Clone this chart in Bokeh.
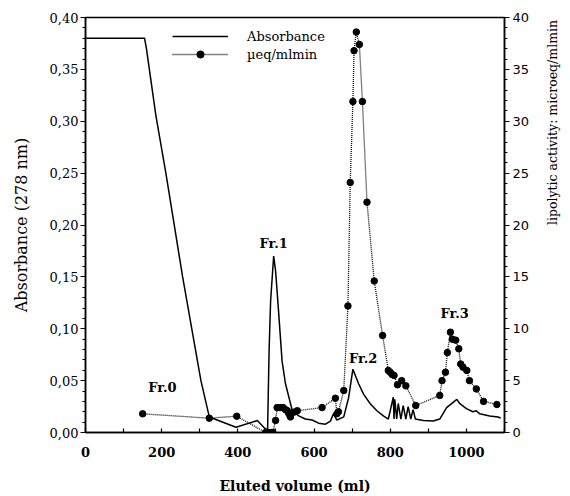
import math
from bokeh.plotting import figure
from bokeh.models import (Range1d, LinearAxis, FixedTicker, CustomJSTickFormatter,
                          Legend, LegendItem, ColumnDataSource)
from bokeh.embed import file_html
from bokeh.resources import INLINE
from bokeh.core.properties import value

# ---- data ----
abs_x = [0, 155, 160, 185, 211, 255, 303, 325, 395, 451, 468, 478, 482, 486, 494, 499,
         508, 516, 525, 534, 543, 560, 577, 595, 612, 630, 643, 651, 660, 678, 691, 702,
         717, 730, 747, 765, 782, 795, 800, 808, 810, 812, 817, 821, 828, 834, 841, 847,
         854, 860, 866, 887, 913, 930, 948, 965, 975, 982, 1000, 1017, 1026, 1035, 1061,
         1083, 1090]
abs_y = [0.380, 0.380, 0.370, 0.305, 0.250, 0.150, 0.050, 0.015, 0.005, 0.0115, 0.005,
         0.002, 0.079, 0.127, 0.170, 0.156, 0.111, 0.069, 0.047, 0.034, 0.021, 0.016,
         0.013, 0.012, 0.009, 0.008, 0.011, 0.018, 0.012, 0.015, 0.034, 0.061, 0.047,
         0.037, 0.028, 0.021, 0.016, 0.013, 0.021, 0.034, 0.013, 0.032, 0.013, 0.028,
         0.013, 0.026, 0.013, 0.025, 0.013, 0.022, 0.013, 0.0115, 0.011, 0.013, 0.024,
         0.029, 0.032, 0.028, 0.023, 0.020, 0.021, 0.018, 0.016, 0.015, 0.014]

act_x = [150, 325, 397, 473, 480, 487, 492, 499, 503, 511, 519, 525, 530, 534, 538, 547,
         556, 621, 656, 660, 664, 678, 689, 695, 702, 705, 711, 719, 727, 739, 758, 780,
         795, 800, 805, 810, 819, 830, 841, 867, 930, 936, 945, 950, 958, 963, 972, 980,
         985, 991, 1001, 1008, 1026, 1045, 1080]
act_y = [1.8, 1.38, 1.57, 0, 0, 0, 0, 1.16, 2.4, 2.4, 2.4, 2.2, 2.1, 1.8, 1.5, 1.96,
         2.1, 2.4, 3.3, 1.8, 2.0, 4.05, 12.2, 24.1, 31.9, 36.8, 38.6, 37.4, 31.9, 22.2,
         14.6, 9.35, 5.98, 5.8, 5.6, 5.5, 4.6, 5.0, 4.5, 2.6, 3.57, 5.0, 5.8, 7.7, 9.67,
         9.0, 8.9, 8.07, 6.6, 6.3, 5.98, 5.0, 4.2, 3.0, 2.7]

frac_labels = ["Fr.0", "Fr.1", "Fr.2", "Fr.3"]
frac_x = [202, 494, 729, 969]
frac_y = [0.0437, 0.182, 0.0713, 0.1147]

x_ticks = [0, 200, 400, 600, 800, 1000]
x_minor = [100, 300, 500, 700, 900, 1100]
y_ticks = [0.00, 0.05, 0.10, 0.15, 0.20, 0.25, 0.30, 0.35, 0.40]
y_minor = [i / 100 for i in range(41)]
act_ticks = [0, 5, 10, 15, 20, 25, 30, 35, 40]
act_minor = list(range(41))

SERIF = "DejaVu Serif"

p = figure(width=570, height=496, output_backend="svg", toolbar_location=None,
           x_range=Range1d(0, 1100), y_range=Range1d(0, 0.40),
           min_border_left=85, min_border_right=64, min_border_top=17, min_border_bottom=64)
p.extra_y_ranges = {"act": Range1d(0, 40)}
p.grid.visible = False
p.outline_line_color = "black"
p.outline_line_width = 1.5
p.background_fill_color = "white"
p.border_fill_color = "white"

# bottom axis
xa = p.xaxis[0]
xa.ticker = FixedTicker(ticks=x_ticks, minor_ticks=x_minor)
xa.major_label_text_font = SERIF
xa.major_label_text_font_style = "bold"
xa.major_label_text_font_size = "13px"
xa.major_label_text_color = "black"
xa.major_tick_in = 4
xa.major_tick_out = 0
xa.minor_tick_in = 4
xa.minor_tick_out = 0
xa.major_label_standoff = 14
xa.axis_line_width = 1.5
xa.major_tick_line_width = 1.2
xa.minor_tick_line_width = 1.2
xa.axis_label = "Eluted volume (ml)"
xa.axis_label_text_font = SERIF
xa.axis_label_text_font_style = "bold"
xa.axis_label_text_font_size = "14px"
xa.axis_label_standoff = 18
xa.axis_label_text_color = "black"

# left axis
ya = p.yaxis[0]
ya.ticker = FixedTicker(ticks=y_ticks, minor_ticks=y_minor)
ya.formatter = CustomJSTickFormatter(code="return tick.toFixed(2).replace('.', ',');")
ya.major_label_text_font = SERIF
ya.major_label_text_font_size = "13px"
ya.major_label_text_color = "black"
ya.major_tick_in = 0
ya.major_tick_out = 5
ya.minor_tick_in = 0
ya.minor_tick_out = 3
ya.major_label_standoff = 2
ya.axis_line_width = 1.5
ya.major_tick_line_width = 1.2
ya.axis_label = "Absorbance (278 nm)"
ya.axis_label_text_font = SERIF
ya.axis_label_text_font_style = "normal"
ya.axis_label_text_font_size = "16px"
ya.axis_label_standoff = 16
ya.axis_label_text_color = "black"

# right axis
ra = LinearAxis(y_range_name="act", ticker=FixedTicker(ticks=act_ticks, minor_ticks=act_minor))
ra.major_label_text_font = "DejaVu Sans"
ra.major_label_text_font_size = "13px"
ra.major_label_text_color = "black"
ra.major_tick_in = 0
ra.major_tick_out = 5
ra.minor_tick_in = 0
ra.minor_tick_out = 3
ra.major_label_standoff = 3
ra.axis_line_width = 1.5
ra.major_tick_line_width = 1.2
ra.axis_label = "lipolytic activity: microeq/mlmin"
ra.axis_label_text_font = SERIF
ra.axis_label_text_font_style = "normal"
ra.axis_label_text_font_size = "12.5px"
ra.axis_label_standoff = 20
ra.axis_label_text_color = "black"
try:
    ra.axis_label_orientation = math.pi / 2
except Exception:
    pass
p.add_layout(ra, "right")

# data
abs_line = p.line(abs_x, abs_y, line_color="black", line_width=1.5)
act_line = p.line(act_x, act_y, y_range_name="act", line_color="black",
                  line_width=1.3, line_dash="1 1")
act_pts = p.scatter(act_x, act_y, y_range_name="act", size=6.5, color="black")

src = ColumnDataSource(dict(x=frac_x, y=frac_y, t=frac_labels))
p.text(x="x", y="y", text="t", source=src, text_font=value(SERIF), text_font_style="bold",
       text_font_size="13px", text_align="center", text_baseline="middle", text_color="black")

legend = Legend(items=[LegendItem(label="Absorbance", renderers=[abs_line]),
                       LegendItem(label="\u00b5eq/mlmin", renderers=[act_line, act_pts])],
                location=(87, 369), glyph_width=56, glyph_height=18, label_height=18,
                label_standoff=19, padding=0, margin=0, spacing=0,
                border_line_color=None, background_fill_alpha=0,
                label_text_font=SERIF, label_text_font_size="13px",
                label_text_color="black")
p.add_layout(legend)

open("out.html", "w").write(file_html(p, INLINE))
